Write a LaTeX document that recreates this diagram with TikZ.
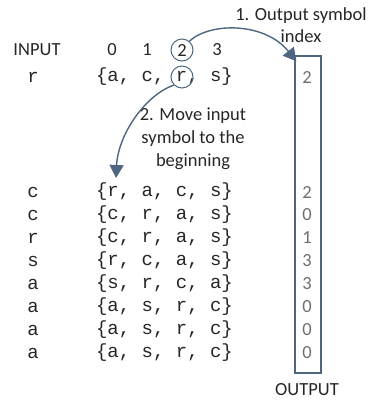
\documentclass[tikz,border=0pt]{standalone}
\usepackage{fontspec}
\setmainfont{Carlito}
\setmonofont{Liberation Mono}
\usetikzlibrary{arrows.meta}

\definecolor{slate}{HTML}{4F6680}
\definecolor{digitgray}{HTML}{6E6E6E}

\tikzset{
lbl/.style={font=\fontsize{18.5}{22}\selectfont, text=black!85, inner sep=0pt},
note/.style={lbl, align=center},
mono/.style={font=\ttfamily\fontsize{19}{22}\selectfont, text=black!85, inner sep=0pt},
outdigit/.style={lbl, text=digitgray},
ring/.style={draw=slate, line width=1pt, circle, minimum size=22pt, inner sep=0pt},
flow/.style={draw=slate, line width=1.4pt, -{Triangle[width=14pt,length=13pt]}}
}

\begin{document}
\begin{tikzpicture}[x=1pt,y=-1pt]
\useasboundingbox (0,0) rectangle (369,400);

% Input row
\node[lbl] (input) at (37,50) {INPUT};
\node[mono] (insym) at (33,77) {r};
\foreach \i/\x in {0/112,1/147,2/182,3/217}
{
\node[lbl] (idx\i) at (\x,50) {\i};
}
\node[mono] (inset) at (164.5,77) {\{a, c, r, s\}};

\node[ring] (ring2) at (idx2) {};
\node[ring] (ringr) at (182,77) {};

% Output box
\node[draw=slate, line width=1.3pt, minimum width=26pt, minimum height=317pt, inner sep=0pt]
(outbox) at (308,214.5) {};
\node[outdigit] (inout) at (307,77) {2};
\node[lbl] (output) at (307,390) {OUTPUT};

% Rows
\foreach \k/\s/\ea/\eb/\ec/\ed/\o in {
0/c/r/a/c/s/2,
1/c/c/r/a/s/0,
2/r/c/r/a/s/1,
3/s/r/c/a/s/3,
4/a/s/r/c/a/3,
5/a/a/s/r/c/0,
6/a/a/s/r/c/0,
7/a/a/s/r/c/0
}
{
\node[mono] (sym\k) at (33,192+23*\k) {\s};
\node[mono] (set\k) at (164.5,192+23*\k) {\{\ea, \eb, \ec, \ed\}};
\node[outdigit] (out\k) at (307,192+23*\k) {\o};
}

% Step 1
\node[note] (step1) at (301,25.5) {1. Output symbol\\index};
\draw[flow] (ring2.50)
.. controls (210,22) and (265,22) ..
([xshift=2pt,yshift=-6pt]outbox.north west);

% Step 2
\node[note, font=\fontsize{18.5}{23}\selectfont] (step2) at (193,139)
{2. Move input\\symbol to the\\beginning};
\coordinate (drop) at (116,178);
\draw[flow] (ringr.225)
.. controls (145,95) and (118,135) ..
(drop);

\end{tikzpicture}
\end{document}
